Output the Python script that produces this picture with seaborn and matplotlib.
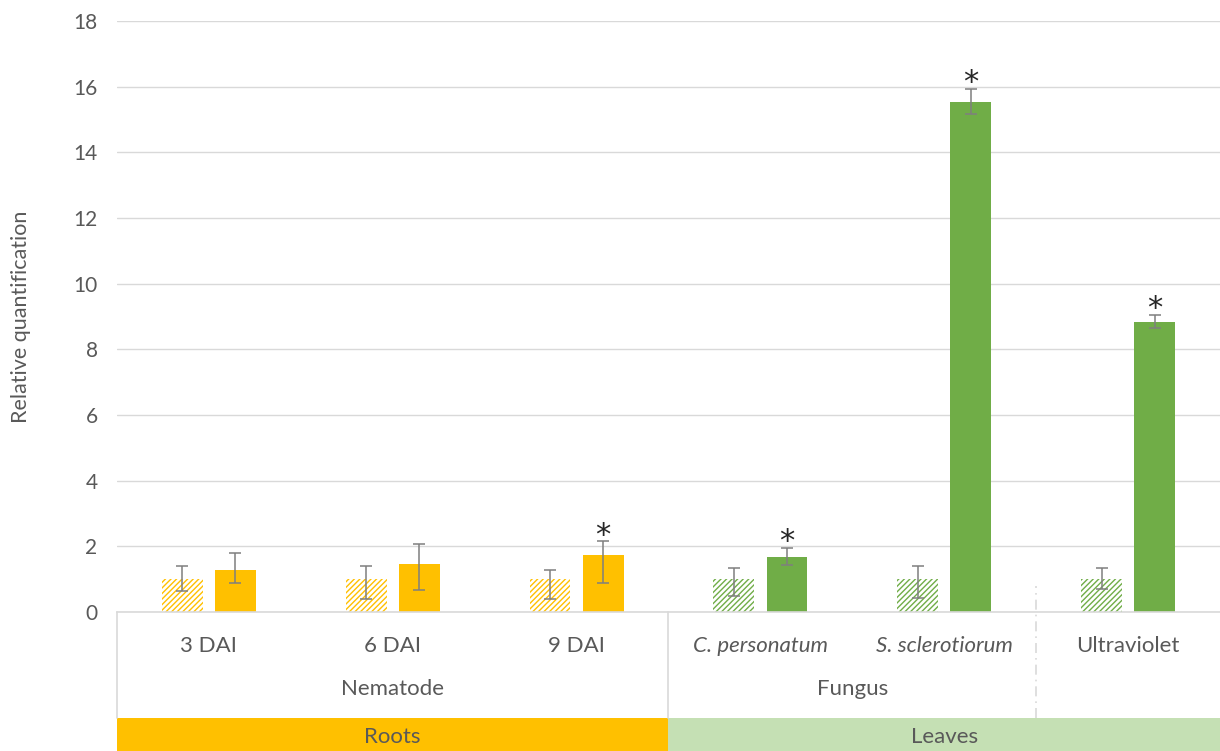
import matplotlib
matplotlib.use("Agg")
import matplotlib.pyplot as plt
import seaborn as sns
import pandas as pd
import numpy as np
from matplotlib.patches import Rectangle
from matplotlib.container import BarContainer

# ---------------- data ----------------
categories = ["3 DAI", "6 DAI", "9 DAI", "C. personatum", "S. sclerotiorum", "Ultraviolet"]
italic_cats = [False, False, False, True, True, False]
groups = ["Nematode", "Nematode", "Nematode", "Fungus", "Fungus", "Ultraviolet"]
show_group = [True, True, True, True, True, False]
tissues = ["Roots", "Roots", "Roots", "Leaves", "Leaves", "Leaves"]

control_values = [1.0, 1.0, 1.0, 1.0, 1.0, 1.0]
control_err_low = [0.36, 0.60, 0.61, 0.50, 0.57, 0.31]
control_err_high = [0.40, 0.39, 0.28, 0.35, 0.39, 0.35]

treated_values = [1.29, 1.45, 1.73, 1.68, 15.54, 8.84]
treated_err_low = [0.42, 0.78, 0.86, 0.25, 0.37, 0.20]
treated_err_high = [0.51, 0.63, 0.42, 0.28, 0.39, 0.21]
treated_significant = [False, False, True, True, True, True]

series = ["Control", "Treated"]
yticks = [0, 2, 4, 6, 8, 10, 12, 14, 16, 18]

# ---------------- styles ----------------
ORANGE = "#FFC000"
GREEN = "#70AD47"
LEAF_BAND = "#C5E0B4"
TEXT = "#595959"
GRID = "#D9D9D9"
tissue_color = {"Roots": ORANGE, "Leaves": GREEN}
band_color = {"Roots": ORANGE, "Leaves": LEAF_BAND}

sns.set_theme(style="white")
plt.rcParams["font.family"] = ["Lato", "DejaVu Sans"]
plt.rcParams["hatch.linewidth"] = 1.0

W, H = 1220, 751
fig = plt.figure(figsize=(W / 100, H / 100), dpi=100)
x0, x1 = 117, 1220
y_top, y_base = 21, 612
ax = fig.add_axes([x0 / W, 1 - y_base / H, (x1 - x0) / W, (y_base - y_top) / H])

df = pd.DataFrame({
    "category": categories * 2,
    "series": [series[0]] * len(categories) + [series[1]] * len(categories),
    "value": control_values + treated_values,
})

sns.barplot(data=df, x="category", y="value", hue="series", order=categories,
            hue_order=series, width=0.577, gap=0.23, dodge=True, legend=False,
            errorbar=None, ax=ax, palette=["#ffffff", "#ffffff"])

ax.set_xlim(-0.5, len(categories) - 0.5)
ax.set_ylim(0, 18)
ax.set_yticks(yticks)
ax.set_yticklabels([str(t) for t in yticks], fontsize=15, color=TEXT)
ax.tick_params(axis="y", length=0, pad=14)
ax.set_xticks([])
ax.set_xlabel("")
ax.set_ylabel("Relative quantification", fontsize=15.5, color=TEXT)
ax.yaxis.set_label_coords(-0.078, 0.5)
ax.yaxis.grid(True, color=GRID, linewidth=1)
ax.set_axisbelow(True)
for s in ["top", "right", "left"]:
    ax.spines[s].set_visible(False)
ax.spines["bottom"].set_color(GRID)
ax.spines["bottom"].set_linewidth(1.2)

err_sets = [(control_err_low, control_err_high), (treated_err_low, treated_err_high)]
vals_sets = [control_values, treated_values]
bar_containers = [c for c in ax.containers if isinstance(c, BarContainer)]
for k, cont in enumerate(bar_containers):
    xs = []
    for i, patch in enumerate(cont.patches):
        col = tissue_color[tissues[i]]
        if k == 0:
            patch.set_facecolor("white")
            patch.set_edgecolor(col)
            patch.set_hatch("//////")
            patch.set_linewidth(0)
        else:
            patch.set_facecolor(col)
            patch.set_edgecolor(col)
            patch.set_linewidth(0)
        xs.append(patch.get_x() + patch.get_width() / 2)
    lo, hi = err_sets[k]
    ax.errorbar(xs, vals_sets[k], yerr=[lo, hi], fmt="none", ecolor="#7F7F7F",
                elinewidth=1.1, capsize=4, capthick=1.1, zorder=5)
    if k == 1:
        for i, x in enumerate(xs):
            if treated_significant[i]:
                ax.annotate("*", (x, treated_values[i] + hi[i]), xytext=(0, -6),
                            textcoords="offset points", ha="center", va="bottom",
                            fontsize=22, color="#262626", family="DejaVu Sans")

# ---------------- lower table ----------------
tb = fig.add_axes([x0 / W, 0, (x1 - x0) / W, (H - y_base) / H])
tb.set_xlim(-0.5, len(categories) - 0.5)
tb.set_ylim(0, 1)
tb.axis("off")
band_h = 33 / (H - y_base)

# tissue bands
i = 0
while i < len(tissues):
    j = i
    while j + 1 < len(tissues) and tissues[j + 1] == tissues[i]:
        j += 1
    tb.add_patch(Rectangle((i - 0.5, 0), j - i + 1, band_h, facecolor=band_color[tissues[i]],
                           edgecolor="none"))
    tb.text((i + j) / 2, band_h / 2 - 0.02, tissues[i], ha="center", va="center",
            fontsize=16, color=TEXT)
    i = j + 1

# category labels
for i, c in enumerate(categories):
    tb.text(i, 0.755, c, ha="center", va="center", fontsize=16, color=TEXT,
            style="italic" if italic_cats[i] else "normal")

# group labels and dividers
tb.plot([-0.5, -0.5], [band_h, 1], color=GRID, lw=1.2, clip_on=False)
i = 0
while i < len(groups):
    j = i
    while j + 1 < len(groups) and groups[j + 1] == groups[i]:
        j += 1
    if show_group[i]:
        tb.text((i + j) / 2, 0.445, groups[i], ha="center", va="center",
                fontsize=16, color=TEXT)
    if j + 1 < len(groups):
        if tissues[j + 1] != tissues[j]:
            tb.plot([j + 0.5, j + 0.5], [band_h, 1], color=GRID, lw=1.2, clip_on=False)
        else:
            tb.plot([j + 0.5, j + 0.5], [band_h, 1.19], color=GRID, lw=1.2,
                    linestyle=(0, (6, 3, 1, 3)), clip_on=False)
    i = j + 1

fig.savefig("out.png", dpi=100)
